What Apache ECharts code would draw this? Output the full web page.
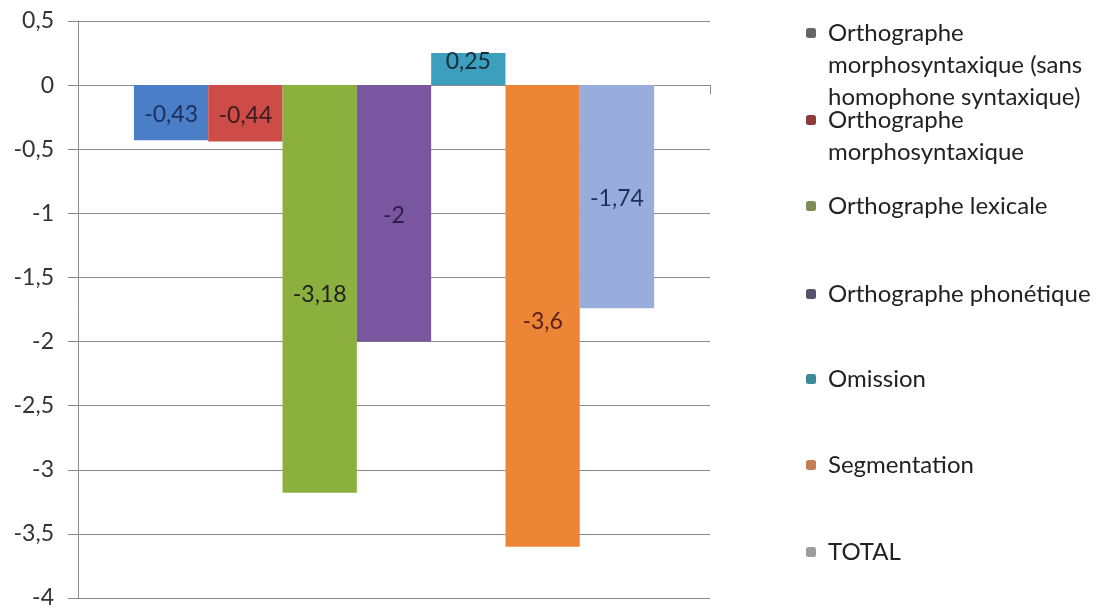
<!DOCTYPE html>
<html><head><meta charset="utf-8">
<script src="https://cdn.jsdelivr.net/npm/echarts@6/dist/echarts.min.js"></script>
<style>html,body{margin:0;padding:0;background:#fff}#c{width:1105px;height:612px}</style>
</head><body><div id="c"></div>
<script>
const categories = [''];
const seriesNames = [
  'Orthographe morphosyntaxique (sans homophone syntaxique)',
  'Orthographe morphosyntaxique',
  'Orthographe lexicale',
  'Orthographe phonétique',
  'Omission',
  'Segmentation',
  'TOTAL'
];
const legendLines = [
  ['Orthographe', 'morphosyntaxique (sans', 'homophone syntaxique)'],
  ['Orthographe', 'morphosyntaxique'],
  ['Orthographe lexicale'],
  ['Orthographe phonétique'],
  ['Omission'],
  ['Segmentation'],
  ['TOTAL']
];
const values = [-0.43, -0.44, -3.18, -2, 0.25, -3.6, -1.74];
const yTicks = { min: -4, max: 0.5, interval: 0.5 };

const barColors = ['#4A7EC6', '#CE4C48', '#8BB03D', '#7A56A1', '#3C9FBE', '#EC8636', '#99ADDC'];
const iconColors = ['#666666', '#8E3A3A', '#7E8C58', '#57536E', '#3A8A9A', '#C47C52', '#9C9C9C'];
const labelColors = ['#1D2F5C', '#3A1C1C', '#222222', '#2C1E48', '#1A2A3A', '#5A1E1E', '#1D2F5C'];
const legendCenters = [33, 120, 206, 294, 379, 465, 552];
const LH = 32;

const fmt = v => String(v).replace('.', ',');

const series = seriesNames.map((n, i) => ({
  name: n,
  type: 'bar',
  barGap: 0,
  barCategoryGap: '17.7%',
  data: [values[i]],
  itemStyle: { color: barColors[i] },
  label: {
    show: true,
    position: 'inside',
    offset: i === 4 ? [0, -8] : (i === 2 || i === 5 ? [0, 6] : [0, 2]),
    formatter: p => fmt(p.value),
    color: labelColors[i],
    fontFamily: 'Lato',
    fontSize: 23
  }
}));

const legends = seriesNames.map((n, i) => {
  const lines = legendLines[i];
  const total = lines.length * 2 - 1;
  return {
    data: [{ name: n, itemStyle: { color: iconColors[i] } }],
    left: 806,
    top: legendCenters[i] - total * LH / 2,
    padding: 0,
    itemWidth: 10,
    itemHeight: 10,
    itemGap: 0,
    selectedMode: false,
    formatter: () => '\n'.repeat(lines.length - 1) + lines.join('\n'),
    textStyle: { fontFamily: 'Lato', fontSize: 24, color: '#222', lineHeight: LH, padding: [0, 0, 0, 7] }
  };
});

const chart = echarts.init(document.getElementById('c'));
chart.setOption({
  animation: false,
  backgroundColor: '#fff',
  grid: { left: 78, right: 395, top: 21, bottom: 14 },
  legend: legends,
  xAxis: {
    type: 'category',
    data: categories,
    axisLine: { onZero: true, lineStyle: { color: '#8a8a8a', width: 1 } },
    axisTick: { show: true, length: 9, lineStyle: { color: '#8a8a8a' } },
    axisLabel: { show: false },
    splitLine: { show: false }
  },
  yAxis: {
    type: 'value',
    min: yTicks.min, max: yTicks.max, interval: yTicks.interval,
    axisLine: { show: true, lineStyle: { color: '#8a8a8a', width: 1 } },
    axisTick: { show: true, length: 10, lineStyle: { color: '#8a8a8a' } },
    splitLine: { show: true, lineStyle: { color: '#8a8a8a', width: 1 } },
    axisLabel: { formatter: v => fmt(v), color: '#333', fontFamily: 'Lato', fontSize: 23, margin: 24 }
  },
  series: series
});
</script></body></html>
